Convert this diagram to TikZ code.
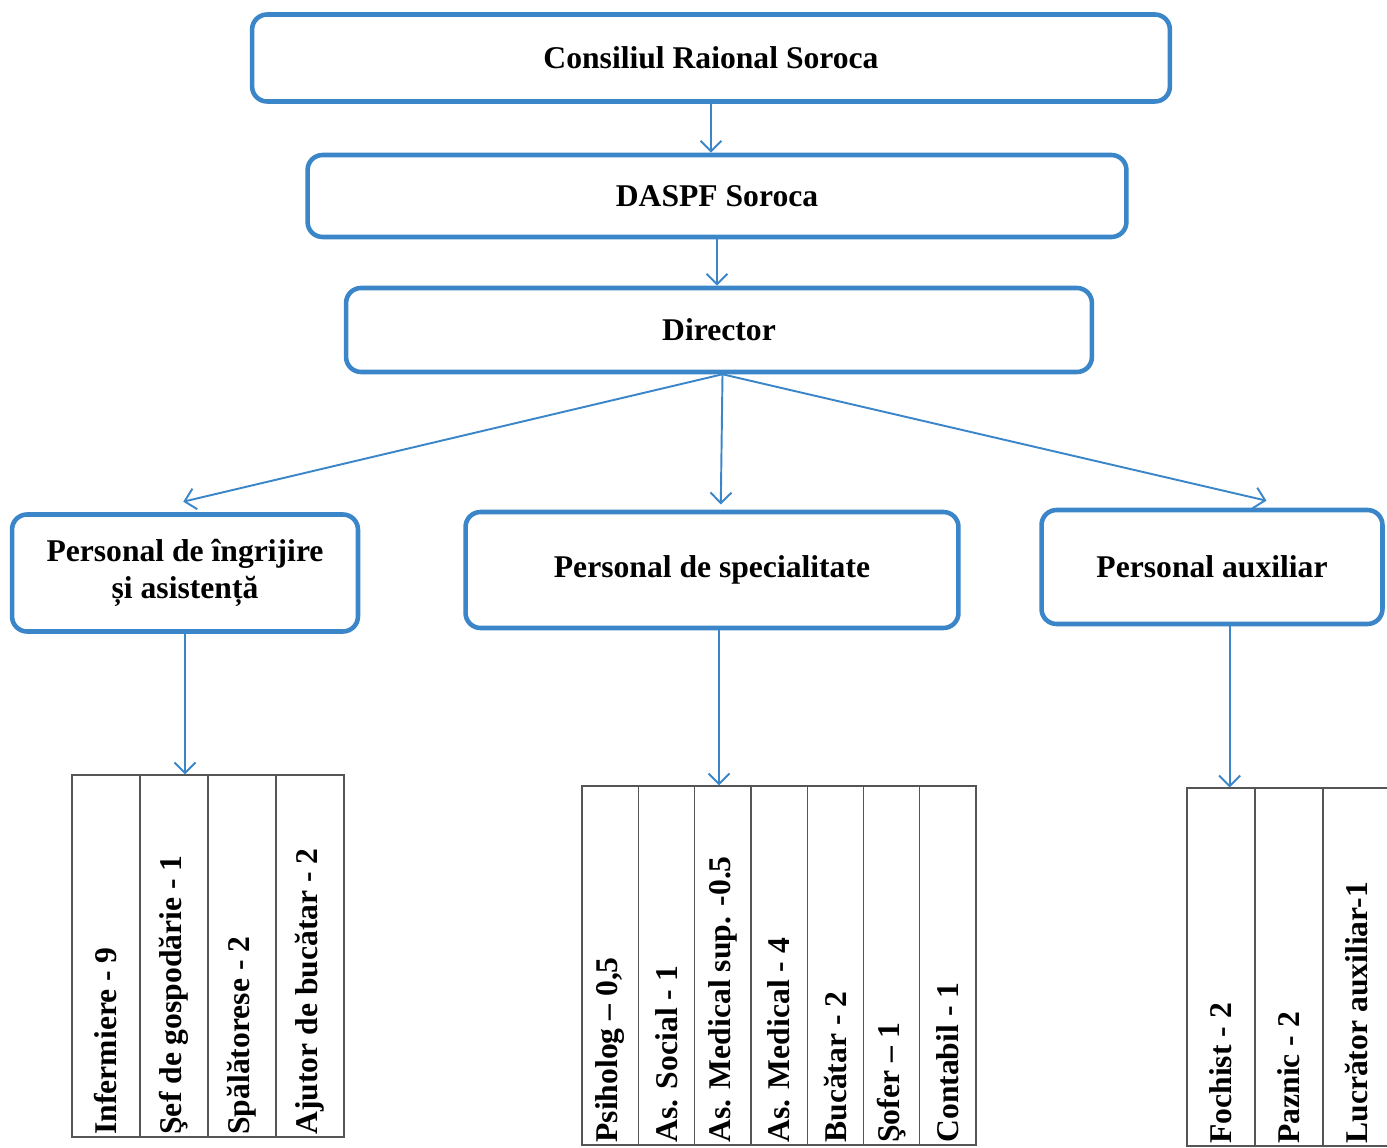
\documentclass[tikz,border=0pt]{standalone}
\usepackage{fontspec}
\setmainfont{Liberation Serif}
\usetikzlibrary{arrows.meta}
\definecolor{orgblue}{RGB}{59,134,201}
\definecolor{gridgray}{RGB}{85,85,85}

\begin{document}
\begin{tikzpicture}[x=0.02cm,y=-0.02cm,
   unitbox/.style={draw=orgblue,line width=2.6pt,rounded corners=0.3cm,fill=white,
      align=center,font=\fontsize{18}{21}\selectfont\bfseries},
   link/.style={draw=orgblue,line width=1.1pt,-{Straight Barb[length=6pt,width=12pt]}},
   cell/.style={draw=gridgray,line width=0.7pt,inner sep=0pt},
   post/.style={rotate=90,anchor=west,inner sep=1.5pt,font=\fontsize{18}{21}\selectfont\bfseries}]
   \useasboundingbox (0,0) rectangle (1387,1148);

   \node[unitbox,minimum width=18.36cm,minimum height=1.74cm] (consiliu) at (711,58) {Consiliul Raional Soroca};
   \node[unitbox,minimum width=16.38cm,minimum height=1.64cm] (daspf) at (717,196) {DASPF Soroca};
   \node[unitbox,minimum width=14.92cm,minimum height=1.68cm] (director) at (719,330) {Director};

   \node[unitbox,minimum width=6.92cm,minimum height=2.34cm] (ingrijire) at (185,573) {Personal de îngrijire\\și asistență};
   \node[unitbox,minimum width=9.86cm,minimum height=2.32cm] (specialitate) at (712,570) {Personal de specialitate};
   \node[unitbox,minimum width=6.82cm,minimum height=2.28cm] (auxiliar) at (1212,567) {Personal auxiliar};

   \draw[link] (consiliu.south) -- (consiliu.south |- daspf.north);
   \draw[link] (daspf.south) -- (daspf.south |- director.north);

   \coordinate (toIngrijire) at ([xshift=-1pt,yshift=6pt]ingrijire.north);
   \coordinate (toSpecialitate) at ([xshift=5pt,yshift=3pt]specialitate.north);
   \coordinate (toAuxiliar) at ([xshift=31pt,yshift=4pt]auxiliar.north);
   \draw[link] ([xshift=2pt]director.south) -- (toIngrijire);
   \draw[link] ([xshift=2pt]director.south) -- (toSpecialitate);
   \draw[link] ([xshift=2pt]director.south) -- (toAuxiliar);

   % personal de ingrijire
   \foreach \post [count=\i] in {Infermiere - 9,Şef de gospodărie - 1,Spălătorese - 2,Ajutor de bucătar - 2} {
      \node[cell,minimum width=1.36cm,minimum height=7.24cm] (ing\i) at ({72+68*(\i-0.5)},956) {};
      \node[post] at (ing\i.south) {\post};
   }
   % personal de specialitate
   \foreach \post [count=\i] in {{Psiholog – 0,5},As. Social - 1,As. Medical sup. -0.5,As. Medical - 4,Bucătar - 2,Şofer – 1,Contabil - 1} {
      \node[cell,minimum width=1.126cm,minimum height=7.18cm] (spec\i) at ({582+56.3*(\i-0.5)},965.5) {};
      \node[post] at (spec\i.south) {\post};
   }
   % personal auxiliar
   \foreach \post [count=\i] in {Fochist - 2,Paznic - 2,Lucrător auxiliar-1} {
      \node[cell,minimum width=1.36cm,minimum height=7.16cm] (aux\i) at ({1187+68*(\i-0.5)},967) {};
      \node[post] at (aux\i.south) {\post};
   }

   \draw[link] (ingrijire.south) -- (ingrijire.south |- ing1.north);
   \draw[link] ([xshift=4pt]specialitate.south) -- ([xshift=4pt]specialitate.south |- spec1.north);
   \draw[link] ([xshift=10pt]auxiliar.south) -- ([xshift=10pt]auxiliar.south |- aux1.north);
\end{tikzpicture}
\end{document}
